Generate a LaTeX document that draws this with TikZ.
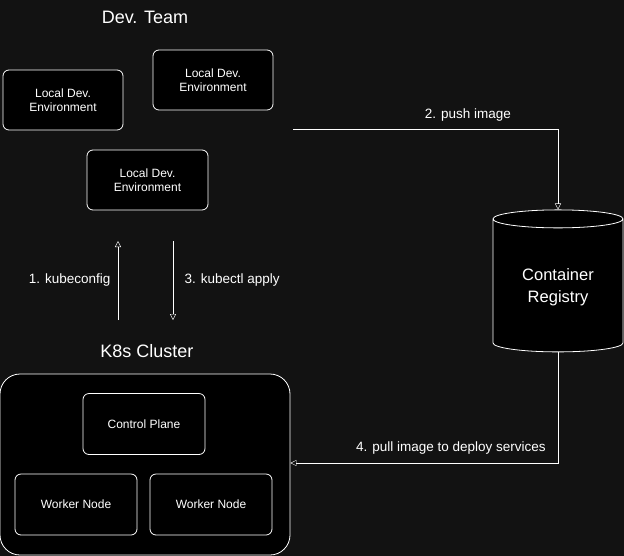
\documentclass[tikz,border=0pt]{standalone}
\usepackage{fontspec}
\setmainfont{Liberation Sans}
\usetikzlibrary{shapes.geometric, backgrounds, arrows.meta}
\definecolor{coal}{rgb}{0.071,0.071,0.071}

\begin{document}
\begin{tikzpicture}[
  x=1pt, y=-1pt,
  background rectangle/.style={fill=coal},
  show background rectangle,
  every node/.style={text=white},
  devbox/.style={
    draw=white,
    fill=black,
    thick,
    rounded corners=6pt,
    align=center,
    font=\fontsize{12}{14.5}\selectfont,
    minimum width=120pt,
    minimum height=60pt
  },
  title/.style={font=\fontsize{18}{21}\selectfont},
  flow/.style={draw=white, -{Triangle[open, length=6pt, width=6pt]}},
  flowlabel/.style={font=\fontsize{13.5}{16}\selectfont},
]
\useasboundingbox (0,0) rectangle (624,555);

% dev team
\node[title] (devteam) at (145,17) {Dev. Team};
\node[devbox] (devA) at (63,100) {Local Dev.\\Environment};
\node[devbox] (devB) at (213,80) {Local Dev.\\Environment};
\node[devbox, minimum width=121pt] (devC) at (147.5,180) {Local Dev.\\Environment};

% registry
\node[draw=white, fill=black, thick, cylinder, shape border rotate=90, aspect=0.23,
  minimum width=130pt, minimum height=142pt, align=center,
  font=\fontsize{16.5}{22}\selectfont] (registry) at (558,287) {Container\\Registry};

% cluster
\node[title] (k8s) at (147,351) {K8s Cluster};
\node[devbox, rounded corners=20pt, minimum width=290pt, minimum height=181pt] (cluster) at (145,464.5) {};
\node[devbox, minimum width=122pt, minimum height=61pt] (control) at (144,424) {Control Plane};
\node[devbox, minimum width=122pt, minimum height=61pt] (workerA) at (76,504.5) {Worker Node};
\node[devbox, minimum width=122pt, minimum height=61pt] (workerB) at (211,504.5) {Worker Node};

% connectors
\coordinate (pushstart) at (293,129);
\coordinate (kubeA) at (118,320);
\coordinate (kubeB) at (118,241);
\coordinate (applyA) at (173,241);
\coordinate (applyB) at (173,320);
\draw[flow] (pushstart) -| node[flowlabel, pos=0.33, above=4pt] {2. push image} (registry.top);
\draw[flow] (registry.bottom) |- node[flowlabel, pos=0.70, above=5pt] {4. pull image to deploy services} (cluster.east |- 0,463);
\draw[flow] (kubeA) -- node[flowlabel, left=4pt] {1. kubeconfig} (kubeB);
\draw[flow] (applyA) -- node[flowlabel, right=8pt] {3. kubectl apply} (applyB);

\end{tikzpicture}
\end{document}
